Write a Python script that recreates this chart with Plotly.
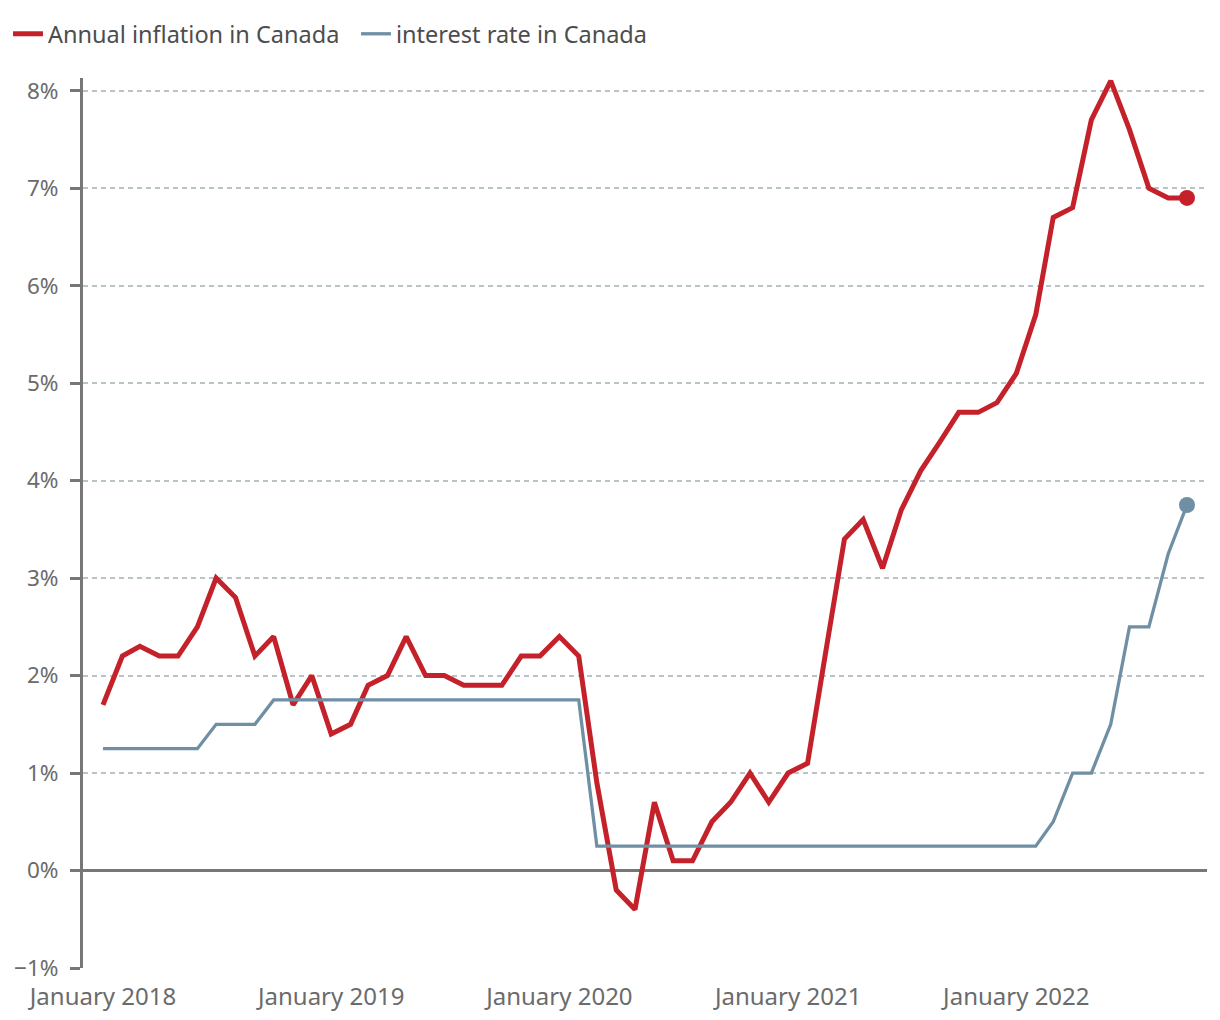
import plotly.graph_objects as go
import pandas as pd

months = pd.date_range("2018-01-01", "2022-10-01", freq="MS")

inflation = [1.7, 2.2, 2.3, 2.2, 2.2, 2.5, 3.0, 2.8, 2.2, 2.4, 1.7, 2.0,
             1.4, 1.5, 1.9, 2.0, 2.4, 2.0, 2.0, 1.9, 1.9, 1.9, 2.2, 2.2,
             2.4, 2.2, 0.9, -0.2, -0.4, 0.7, 0.1, 0.1, 0.5, 0.7, 1.0, 0.7,
             1.0, 1.1, 2.2, 3.4, 3.6, 3.1, 3.7, 4.1, 4.4, 4.7, 4.7, 4.8,
             5.1, 5.7, 6.7, 6.8, 7.7, 8.1, 7.6, 7.0, 6.9, 6.9]

interest = [1.25, 1.25, 1.25, 1.25, 1.25, 1.25, 1.5, 1.5, 1.5, 1.75, 1.75, 1.75,
            1.75, 1.75, 1.75, 1.75, 1.75, 1.75, 1.75, 1.75, 1.75, 1.75, 1.75, 1.75,
            1.75, 1.75, 0.25, 0.25, 0.25, 0.25, 0.25, 0.25, 0.25, 0.25, 0.25, 0.25,
            0.25, 0.25, 0.25, 0.25, 0.25, 0.25, 0.25, 0.25, 0.25, 0.25, 0.25, 0.25,
            0.25, 0.25, 0.5, 1.0, 1.0, 1.5, 2.5, 2.5, 3.25, 3.75]

series_names = ["Annual inflation in Canada", "interest rate in Canada"]
x_tick_vals = ["2018-01-01", "2019-01-01", "2020-01-01", "2021-01-01", "2022-01-01"]
x_tick_text = ["January 2018", "January 2019", "January 2020", "January 2021", "January 2022"]
y_tick_vals = [-1, 0, 1, 2, 3, 4, 5, 6, 7, 8]
y_tick_text = ["\u22121%", "0%", "1%", "2%", "3%", "4%", "5%", "6%", "7%", "8%"]

RED = "#c4212a"
BLUE = "#6f8fa4"
FONT = "Noto Sans"

# page body has an 8px margin, so the figure is sized/offset to compensate
W, H = 1212, 1012

fig = go.Figure()
fig.add_trace(go.Scatter(x=months, y=inflation, mode="lines", name=series_names[0],
                         line=dict(color=RED, width=5), cliponaxis=False))
fig.add_trace(go.Scatter(x=months, y=interest, mode="lines", name=series_names[1],
                         line=dict(color=BLUE, width=3.3), cliponaxis=False))
fig.add_trace(go.Scatter(x=[months[-1]], y=[inflation[-1]], mode="markers", showlegend=False,
                         marker=dict(color=RED, size=16), cliponaxis=False))
fig.add_trace(go.Scatter(x=[months[-1]], y=[interest[-1]], mode="markers", showlegend=False,
                         marker=dict(color=BLUE, size=16), cliponaxis=False))

fig.update_layout(
    width=W, height=H,
    margin=dict(l=75, r=13, t=70, b=52, autoexpand=False),
    plot_bgcolor="white", paper_bgcolor="white",
    font=dict(family=FONT, color="#6b6b6b", size=24),
    hovermode=False,
    legend=dict(orientation="h", x=0.0, xanchor="left", xref="container",
                y=1 - 26 / H, yanchor="middle", yref="container",
                font=dict(size=23.5, color="#4d4d4d"), itemwidth=30,
                entrywidth=303, entrywidthmode="pixels",
                bgcolor="rgba(0,0,0,0)"),
)
fig.update_xaxes(
    automargin=False,
    range=["2017-11-30", "2022-11-02"],
    tickvals=x_tick_vals, ticktext=x_tick_text,
    showgrid=False, showline=False, zeroline=False, ticks="",
    ticklabelstandoff=12,
    tickfont=dict(size=24, color="#6b6b6b"),
)
fig.update_yaxes(
    automargin=False,
    range=[-1, 8.13],
    tickvals=y_tick_vals, ticktext=y_tick_text,
    showgrid=True, gridcolor="#b9c4c8", gridwidth=1.5, griddash="5px,4px",
    showline=True, linecolor="#777777", linewidth=3,
    zeroline=True, zerolinecolor="#777777", zerolinewidth=3,
    ticks="outside", ticklen=10, tickwidth=3, tickcolor="#777777",
    ticklabelstandoff=7,
    tickfont=dict(size=22.5, color="#6b6b6b"),
)

fig.write_html("out.html")
